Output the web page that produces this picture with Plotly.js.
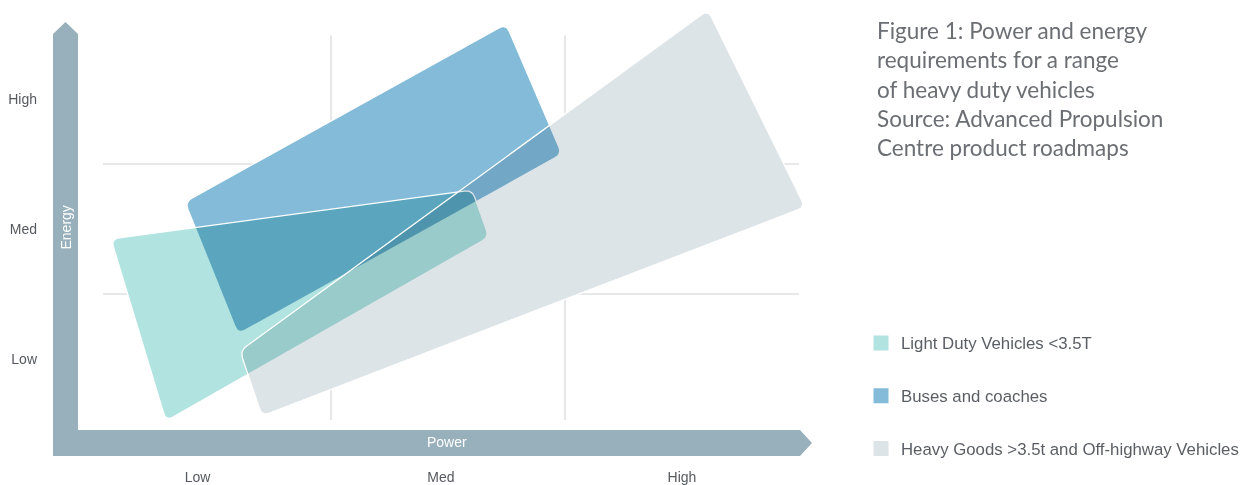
<!DOCTYPE html>
<html><head><meta charset="utf-8">
<script src="https://cdn.plot.ly/plotly-3.0.1.min.js"></script>
<style>
html,body{margin:0;padding:0;background:#fff;}
#chart{width:1249px;height:485px;}
#chart .scatterlayer path.js-fill{mix-blend-mode:multiply;}
</style></head><body><div id="chart"></div>
<script>
// ---- data (power level 0..3, energy level 0..3) ----
const categories = ['Light Duty Vehicles <3.5T', 'Buses and coaches', 'Heavy Goods >3.5t and Off-highway Vehicles'];
const colors = ['#b1e3e0', '#83bbd9', '#dde4e8'];
// corner points of each requirement region
const lightDutyPower  = [0.060, 1.603, 1.675, 0.295];
const lightDutyEnergy = [1.423, 1.800, 1.438, 0.023];
const busPower        = [0.376, 1.748, 1.987, 0.603];
const busEnergy       = [1.708, 3.077, 2.077, 0.692];
const heavyPower      = [0.611, 2.611, 3.026, 0.705];
const heavyEnergy     = [0.562, 3.185, 1.669, 0.062];
const levelLabels = ['Low', 'Med', 'High'];
const powerTickVals = [0.43, 1.47, 2.5];
const energyTickVals = [0.5, 1.5, 2.5];
const gridPower = [1, 2];
const gridEnergy = [1, 2];

// ---- layout geometry ----
const W = 1249, H = 485;
const margin = {l: 97, r: 427, t: 0, b: 61};
const plotW = W - margin.l - margin.r, plotH = H - margin.t - margin.b;
const xRange = [0, plotW / 234];
const yRange = [0, plotH / 130];
const sx = plotW / (xRange[1] - xRange[0]);
const sy = plotH / (yRange[1] - yRange[0]);

function rounded(xs, ys, rPx) {
  const n = xs.length, ox = [], oy = [];
  for (let i = 0; i < n; i++) {
    const px = xs[i] * sx, py = ys[i] * sy;
    const a = (i - 1 + n) % n, b = (i + 1) % n;
    const ax = xs[a] * sx - px, ay = ys[a] * sy - py;
    const bx = xs[b] * sx - px, by = ys[b] * sy - py;
    const la = Math.hypot(ax, ay), lb = Math.hypot(bx, by);
    const r = Math.min(rPx, la / 2, lb / 2);
    const p1x = px + ax / la * r, p1y = py + ay / la * r;
    const p2x = px + bx / lb * r, p2y = py + by / lb * r;
    for (let k = 0; k <= 8; k++) {
      const t = k / 8;
      ox.push(((1 - t) * (1 - t) * p1x + 2 * (1 - t) * t * px + t * t * p2x) / sx);
      oy.push(((1 - t) * (1 - t) * p1y + 2 * (1 - t) * t * py + t * t * p2y) / sy);
    }
  }
  ox.push(ox[0]); oy.push(oy[0]);
  return {x: ox, y: oy};
}

const regions = [
  {name: categories[1], px: busPower, en: busEnergy, color: colors[1]},
  {name: categories[0], px: lightDutyPower, en: lightDutyEnergy, color: colors[0]},
  {name: categories[2], px: heavyPower, en: heavyEnergy, color: colors[2]}
];
const traces = regions.map(r => {
  const p = rounded(r.px, r.en, 8);
  return {type: 'scatter', mode: 'lines', x: p.x, y: p.y, fill: 'toself', fillcolor: r.color,
    line: {color: '#ffffff', width: 1.3}, name: r.name, showlegend: false, hoverinfo: 'name'};
});
categories.forEach((c, i) => traces.push({
  type: 'scatter', mode: 'markers', x: [null], y: [null], name: c, legendgroup: 'g' + i,
  marker: {symbol: 'square', size: 15, color: colors[i]}, showlegend: true
}));

// pixel -> paper helpers for decoration
const pX = p => (p - margin.l) / plotW;
const pY = p => (margin.t + plotH - p) / plotH;
const arrowPts = [[53,456],[53,34],[65.5,22],[78,34],[78,430],[800,430],[812,443],[800,456]];
const arrowPath = 'M' + arrowPts.map(q => pX(q[0]) + ',' + pY(q[1])).join('L') + 'Z';

const gridColor = '#cfd1d3';
const shapes = [];
gridPower.forEach(v => shapes.push({type: 'line', xref: 'x', yref: 'y', layer: 'below',
  x0: v, x1: v, y0: 0.03, y1: 2.99, line: {color: gridColor, width: 1}}));
gridEnergy.forEach(v => shapes.push({type: 'line', xref: 'x', yref: 'y', layer: 'below',
  x0: 0.026, x1: 3.0, y0: v, y1: v, line: {color: gridColor, width: 1}}));
shapes.push({type: 'path', xref: 'paper', yref: 'paper', path: arrowPath,
  fillcolor: '#98b0bb', line: {width: 0}, layer: 'below'});

const labelFont = {family: '"Liberation Sans", Arial, sans-serif', size: 14, color: '#55595f'};
const layout = {
  width: W, height: H, margin: margin,
  paper_bgcolor: '#ffffff', plot_bgcolor: '#ffffff',
  title: {
    text: 'Figure 1: Power and energy<br>requirements for a range<br>of heavy duty vehicles<br>Source: Advanced Propulsion<br>Centre product roadmaps',
    xref: 'container', x: 877 / W, xanchor: 'left',
    yref: 'container', y: 1 - 39 / H, yanchor: 'top',
    font: {family: 'Lato, "Noto Sans", sans-serif', size: 22.5, color: '#6b6e73'}
  },
  xaxis: {range: xRange, showgrid: false, zeroline: false, showline: false,
    tickvals: powerTickVals, ticktext: levelLabels, ticks: '', ticklabelstandoff: 43,
    tickfont: labelFont, fixedrange: true},
  yaxis: {range: yRange, showgrid: false, zeroline: false, showline: false,
    tickvals: energyTickVals, ticktext: levelLabels, ticks: '', ticklabelstandoff: 59,
    tickfont: labelFont, fixedrange: true},
  showlegend: true,
  legend: {xref: 'container', yref: 'container', x: 861 / W, y: 1 - 325.5 / H,
    xanchor: 'left', yanchor: 'top', traceorder: 'grouped', tracegroupgap: 28,
    font: {family: '"Liberation Sans", Arial, sans-serif', size: 16.8, color: '#5a5e64'},
    bgcolor: 'rgba(0,0,0,0)', borderwidth: 0},
  shapes: shapes,
  annotations: [
    {xref: 'paper', yref: 'paper', x: pX(65.5), y: pY(228), xanchor: 'center', yanchor: 'middle',
      text: 'Energy', textangle: -90, showarrow: false,
      font: {family: '"Liberation Sans", Arial, sans-serif', size: 14, color: '#ffffff'}},
    {xref: 'paper', yref: 'paper', x: pX(447), y: pY(442), xanchor: 'center', yanchor: 'middle',
      text: 'Power', showarrow: false,
      font: {family: '"Liberation Sans", Arial, sans-serif', size: 14, color: '#ffffff'}}
  ],
  hovermode: 'closest'
};
Plotly.newPlot('chart', traces, layout, {displayModeBar: false, responsive: false});
</script></body></html>
